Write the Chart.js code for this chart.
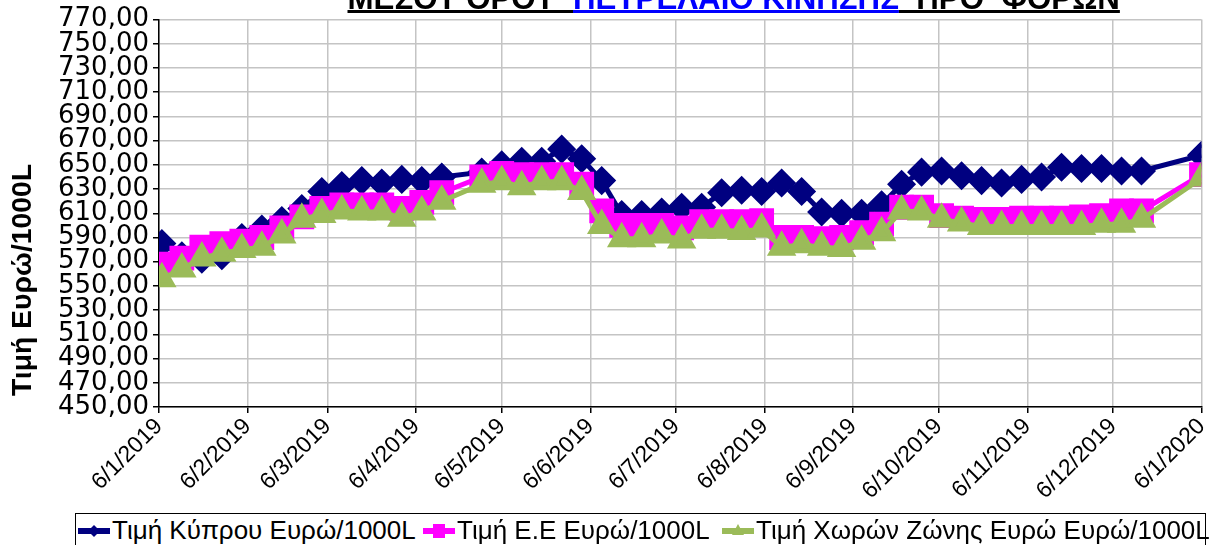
<!DOCTYPE html>
<html lang="el">
<head>
<meta charset="UTF-8">
<title>Μέσος όρος πετρελαίου κίνησης</title>
<script src="https://cdn.jsdelivr.net/npm/chart.js"></script>
<style>
    * { margin: 0; padding: 0; box-sizing: border-box; }
    body { background: #fff; width: 1214px; height: 545px; overflow: hidden; font-family: "Liberation Sans", Arial, sans-serif; }
    .wrap { position: relative; width: 1214px; height: 545px; overflow: hidden; }
    canvas { position: absolute; left: 0; top: 0; }
    .legend { position: absolute; left: 75px; top: 513px; width: 1131px; height: 40px; border: 1px solid #000; background: #fff; }
    .item { position: absolute; top: 1px; display: flex; align-items: center; font-size: 26px; color: #000; white-space: nowrap; }
    .item svg { margin-right: 2px; }
</style>
</head>
<body>
<div class="wrap">
    <!-- a little wider than the page: the rotated last x label reserves room on the right -->
    <canvas id="chart" width="1221" height="545"></canvas>
    <div class="legend" id="legend"></div>
</div>
<script>
// weekly dates (some weeks missing in the source)
const dates = [
    '2019-01-07','2019-01-14','2019-01-21','2019-01-28','2019-02-04','2019-02-11','2019-02-18','2019-02-25',
    '2019-03-04','2019-03-11','2019-03-18','2019-03-25','2019-04-01','2019-04-08','2019-04-15',
    '2019-04-29','2019-05-06','2019-05-13','2019-05-20','2019-05-27','2019-06-03','2019-06-10','2019-06-17','2019-06-24',
    '2019-07-01','2019-07-08','2019-07-15','2019-07-22','2019-07-29','2019-08-05','2019-08-12','2019-08-19','2019-08-26',
    '2019-09-02','2019-09-09','2019-09-16','2019-09-23','2019-09-30','2019-10-07','2019-10-14','2019-10-21','2019-10-28',
    '2019-11-04','2019-11-11','2019-11-18','2019-11-25','2019-12-02','2019-12-09','2019-12-16',
    '2020-01-06'
];
const cyprus = [
    585, 575, 572, 575, 590, 597, 604, 614, 628, 633, 637, 635, 638, 637, 640,
    644, 650, 653, 653, 663, 655, 637, 609, 609, 611,
    615, 615, 627, 629, 628, 635, 628, 611, 610, 610,
    617, 634, 644, 645, 641, 637, 635, 638, 640, 648,
    647, 647, 645, 645,
    658
];
const eu = [
    568, 573, 582, 585, 587, 590, 598, 607, 614, 617, 617, 617, 614, 619, 627,
    640, 643, 642, 642, 642, 634, 612, 600, 600, 600,
    598, 603, 603, 603, 604, 590, 590, 589, 590, 594,
    601, 615, 615, 608, 606, 605, 605, 606, 606, 606,
    607, 608, 612, 612,
    642
];
const euroZone = [
    556, 564, 573, 577, 580, 582, 592, 605, 609, 612, 611, 611, 606, 611, 620,
    634, 636, 632, 636, 636, 628, 600, 589, 589, 592,
    588, 596, 596, 595, 597, 582, 584, 582, 581, 587,
    594, 612, 611, 605, 602, 599, 599, 599, 599, 599,
    599, 601, 601, 605,
    639
];
const seriesNames = ['Τιμή Κύπρου Ευρώ/1000L', 'Τιμή Ε.Ε Ευρώ/1000L', 'Τιμή Χωρών Ζώνης Ευρώ Ευρώ/1000L'];
const tickDates = ['2019-01-06','2019-02-06','2019-03-06','2019-04-06','2019-05-06','2019-06-06','2019-07-06',
    '2019-08-06','2019-09-06','2019-10-06','2019-11-06','2019-12-06','2020-01-06'];
const tickLabels = ['6/1/2019','6/2/2019','6/3/2019','6/4/2019','6/5/2019','6/6/2019','6/7/2019',
    '6/8/2019','6/9/2019','6/10/2019','6/11/2019','6/12/2019','6/1/2020'];
const titleParts = ['ΜΕΣΟΥ ΟΡΟΥ  ', 'ΠΕΤΡΕΛΑΙΟ ΚΙΝΗΣΗΣ', '  ΠΡΟ  ΦΟΡΩΝ'];
const yTitle = 'Τιμή Ευρώ/1000L';

const FONT = '"Liberation Sans", Arial, sans-serif';
const day = s => Date.parse(s + 'T00:00:00Z') / 86400000;
const pts = vals => vals.map((v, i) => ({ x: day(dates[i]), y: v }));

// title on top + rotated y title
const textsPlugin = {
    id: 'texts',
    afterDraw(chart) {
        const ctx = chart.ctx;
        ctx.save();
        ctx.font = 'bold 100px ' + FONT;
        const size = 100 * 326 / ctx.measureText(titleParts[1]).width;
        ctx.font = 'bold ' + size + 'px ' + FONT;
        ctx.textBaseline = 'alphabetic';
        const base = 9;
        const colors = ['#000', '#0000ff', '#000'];
        const w0 = ctx.measureText(titleParts[0]).width;
        const w1 = ctx.measureText(titleParts[1]).width;
        const w2 = ctx.measureText(titleParts[2]).width;
        const xs = [573 - w0, 573, 573 + w1];
        [w0, w1, w2].forEach((w, i) => {
            ctx.fillStyle = colors[i];
            ctx.fillText(titleParts[i], xs[i], base);
            ctx.fillRect(xs[i], base + 1, w, 3);
        });

        ctx.font = 'bold 100px ' + FONT;
        const ys = 100 * 232 / ctx.measureText(yTitle).width;
        ctx.font = 'bold ' + ys + 'px ' + FONT;
        ctx.translate(31, 280);
        ctx.rotate(-Math.PI / 2);
        ctx.textAlign = 'center';
        ctx.textBaseline = 'alphabetic';
        ctx.fillStyle = '#000';
        ctx.fillText(yTitle, 0, 0);
        ctx.restore();
    }
};

new Chart(document.getElementById('chart'), {
    type: 'line',
    data: {
        datasets: [
            { label: seriesNames[0], data: pts(cyprus), borderColor: '#000080', backgroundColor: '#000080',
              borderWidth: 5, pointStyle: 'rectRot', pointRadius: 11, order: 2 },
            { label: seriesNames[1], data: pts(eu), borderColor: '#ff00ff', backgroundColor: '#ff00ff',
              borderWidth: 5, pointStyle: 'rect', pointRadius: 14, order: 1 },
            { label: seriesNames[2], data: pts(euroZone), borderColor: '#9bbb59', backgroundColor: '#9bbb59',
              borderWidth: 5, pointStyle: 'triangle', pointRadius: 12, order: 0 }
        ]
    },
    options: {
        responsive: false,
        animation: false,
        layout: { padding: { top: 17, right: 5, left: 0, bottom: 0 } },
        elements: { line: { tension: 0 }, point: { borderWidth: 0 } },
        plugins: { legend: { display: false }, tooltip: { enabled: false } },
        scales: {
            x: {
                type: 'linear',
                min: day(tickDates[0]),
                max: day(tickDates[tickDates.length - 1]),
                afterBuildTicks: s => { s.ticks = tickDates.map(d => ({ value: day(d) })); },
                afterFit: s => { s.height = 138; },
                ticks: {
                    autoSkip: false, minRotation: 45, maxRotation: 45, padding: 0,
                    color: '#000', font: { family: FONT, size: 23 },
                    callback: (v, i) => tickLabels[i]
                },
                grid: { color: '#c4c4c4', lineWidth: 1.5, tickColor: '#000', tickLength: 6 },
                border: { color: '#000', width: 1.5 }
            },
            y: {
                min: 450, max: 770,
                afterFit: s => { s.width = 159; },
                ticks: {
                    stepSize: 20, autoSkip: false, padding: 4, color: '#000',
                    font: { family: '"DejaVu Sans", ' + FONT, size: 26 },
                    callback: v => v.toFixed(2).replace('.', ',')
                },
                grid: { color: '#c4c4c4', lineWidth: 1.5, tickColor: '#000', tickLength: 6 },
                border: { color: '#000', width: 1.5 }
            }
        }
    },
    plugins: [textsPlugin]
});

// legend with line + marker swatches
const swatches = [
    '<line x1="0" y1="10" x2="32" y2="10" stroke="#000080" stroke-width="6"/><polygon points="16,4 22,10 16,16 10,10" fill="#000080"/>',
    '<line x1="0" y1="10" x2="32" y2="10" stroke="#ff00ff" stroke-width="6"/><rect x="10" y="3" width="12" height="14" fill="#ff00ff"/>',
    '<line x1="0" y1="10" x2="32" y2="10" stroke="#9bbb59" stroke-width="6"/><polygon points="16,3 22,14 10,14" fill="#9bbb59"/>'
];
const legendLeft = [2, 347, 646];
const legend = document.getElementById('legend');
seriesNames.forEach((name, i) => {
    const el = document.createElement('div');
    el.className = 'item';
    el.style.left = legendLeft[i] + 'px';
    el.innerHTML = '<svg width="32" height="20">' + swatches[i] + '</svg><span>' + name + '</span>';
    legend.appendChild(el);
});
</script>
</body>
</html>
